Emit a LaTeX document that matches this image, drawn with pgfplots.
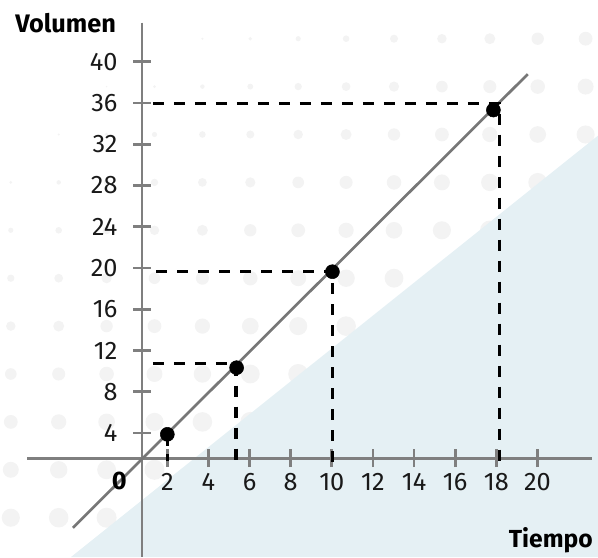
\documentclass[border=0pt]{standalone}
\usepackage{pgfplots}
\pgfplotsset{compat=1.18}
\usepackage{fontspec}
\setmainfont{Fira Sans}
\definecolor{axgray}{HTML}{7F7F7F}
\definecolor{lngray}{HTML}{777777}
\definecolor{bgblue}{HTML}{E5F0F4}
\definecolor{dotgray}{HTML}{F3F3F3}
\newcommand\PX[2]{({(#1)*0.75pt},{(557-(#2))*0.75pt})}
\begin{document}
\begin{tikzpicture}
\useasboundingbox (0,0) rectangle (448.5pt,417.75pt);
% background dots
\foreach \i in {0,...,12}{
  \foreach \j in {0,...,10}{
    \pgfmathsetmacro\cx{10.8+47.9*\i}
    \pgfmathsetmacro\cy{38.7+47.9*\j}
    \pgfmathsetmacro\dd{min(20,0.03*\cx+0.045*\cy-5.5)}
    \pgfmathparse{\dd>1?1:0}
    \ifnum\pgfmathresult=1
      \fill[dotgray] \PX{\cx}{\cy} circle[radius={\dd*0.375pt}];
    \fi
  }
}
% blue triangle
\fill[bgblue] \PX{71}{557} -- \PX{598}{135.6} -- \PX{598}{557} -- cycle;
\begin{axis}[
  at={(0,0)}, anchor=south west,
  x=15.42pt, y=7.7325pt,
  xmin=-6.138, xmax=22.948, ymin=-8.031, ymax=45.994,
  clip=false,
  axis lines=middle,
  axis line style={draw=none},
  axis x line shift=-12pt,
  axis y line shift=-11.9pt,
  xtick={2,4,...,20},
  ytick={4,8,...,40},
  tick align=center,
  major tick length=13.5pt,
  tick style={draw=axgray, line width=2pt},
  /pgf/number format/assume math mode=true,
  ticklabel style={font=\fontsize{19}{22}\selectfont, text=black!90},
  xticklabel style={anchor=north, inner sep=0pt, yshift=-4.5pt},
  yticklabel style={anchor=east, inner sep=0pt, xshift=-11.5pt},
]
% axis lines
\addplot[axgray, line width=2pt, forget plot] coordinates {(-4.82,1.55) (22.65,1.55)};
\addplot[axgray, line width=2pt, forget plot] coordinates {(0.77,43.8) (0.77,-8.031)};
% reference line
\addplot[lngray, line width=2pt] coordinates {(-2.59,-5.2) (19.53,38.8)};
% dashed guides
\addplot[black, line width=2.3pt, dash pattern=on 8.25pt off 7.5pt] coordinates {(1.3,36) (18.15,36) (18.15,1.2)};
\addplot[black, line width=2.3pt, dash pattern=on 8.25pt off 7.5pt] coordinates {(1.45,19.7) (10.04,19.7) (10.04,1.2)};
\addplot[black, line width=2.3pt, dash pattern=on 8.25pt off 7.5pt] coordinates {(1.3,10.72) (5.34,10.72) (5.34,1.2)};
\addplot[black, line width=2.3pt, dash pattern=on 6pt off 6pt] coordinates {(2,3.5) (2,1.3)};
% points
\addplot[only marks, mark=*, mark size=5.25pt, black] coordinates {(2,3.87) (5.37,10.33) (10.03,19.64) (17.86,35.32)};
\end{axis}
\node[anchor=west, inner sep=0pt, font=\bfseries\fontsize{19}{22}\selectfont] at \PX{15}{23} {Volumen};
\node[anchor=base east, inner sep=0pt, font=\bfseries\fontsize{18.5}{22}\selectfont] at \PX{593}{547} {Tiempo};
\node[font=\bfseries\fontsize{19}{22}\selectfont] at \PX{119.3}{480.7} {0};
\end{tikzpicture}
\end{document}
